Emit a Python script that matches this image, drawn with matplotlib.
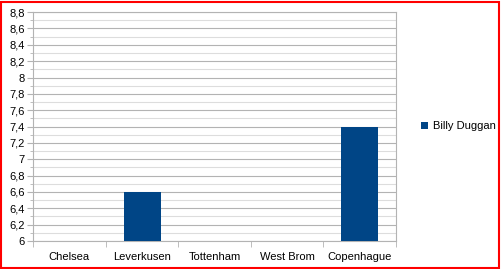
import numpy as np
import matplotlib
matplotlib.use("Agg")
import matplotlib.pyplot as plt
from matplotlib.patches import Rectangle
from matplotlib.ticker import MultipleLocator, FuncFormatter

clubs = ["Chelsea", "Leverkusen", "Tottenham", "West Brom", "Copenhague"]
ratings = [np.nan, 6.6, np.nan, np.nan, 7.4]
player = "Billy Duggan"

plt.rcParams['font.family'] = ['Liberation Sans', 'DejaVu Sans']

fig = plt.figure(figsize=(5.02, 2.69), dpi=100)
ax = fig.add_axes([0.066, 0.104, 0.723, 0.851])

x = np.arange(len(clubs))
ax.bar(x, np.array(ratings) - 6, bottom=6, width=0.51, color="#004586", label=player, zorder=3)

ax.set_xlim(-0.5, len(clubs) - 0.5)
ax.set_ylim(6, 8.8)
ax.yaxis.set_major_locator(MultipleLocator(0.2))
ax.yaxis.set_minor_locator(MultipleLocator(0.1))
ax.yaxis.set_major_formatter(FuncFormatter(lambda v, p: ("%g" % round(v, 1)).replace(".", ",")))
ax.grid(axis="y", which="major", color="#b3b3b3", linewidth=0.8, zorder=0)
ax.grid(axis="y", which="minor", color="#dddddd", linewidth=0.8, zorder=0)

ax.set_xticks(x)
ax.set_xticklabels(clubs)
ax.set_xticks(np.arange(len(clubs) + 1) - 0.5, minor=True)
ax.tick_params(axis="x", which="major", length=0, pad=8, labelsize=8)
ax.tick_params(axis="x", which="minor", length=4, color="#b3b3b3")
ax.tick_params(axis="y", which="major", length=4, color="#b3b3b3", labelsize=8, pad=2)
ax.tick_params(axis="y", which="minor", length=2, color="#b3b3b3")
for s in ax.spines.values():
    s.set_color("#b3b3b3")

fig.legend(loc="center left", bbox_to_anchor=(0.838, 0.53), frameon=False,
           fontsize=8, handlelength=0.7, handleheight=0.7, handletextpad=0.4,
           borderpad=0, borderaxespad=0)

fig.patches.append(Rectangle((0.002, 0.004), 0.992, 0.99, transform=fig.transFigure,
                             fill=False, edgecolor="red", linewidth=1.5))

fig.savefig("out.png", dpi=100)
